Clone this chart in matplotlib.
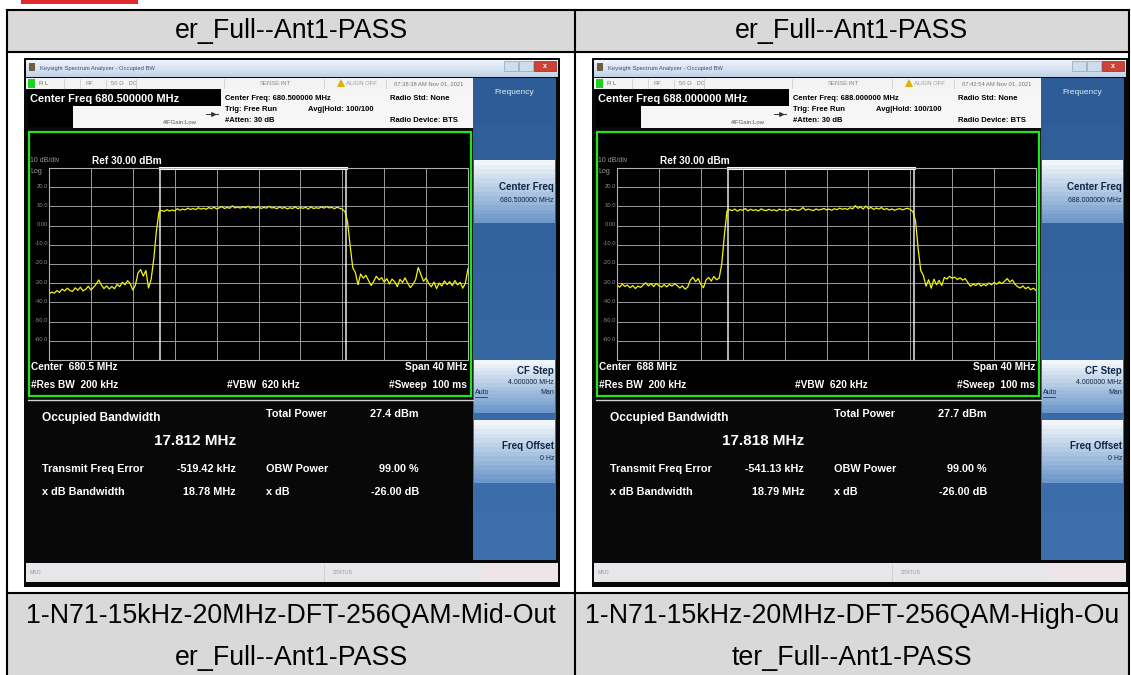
#!/usr/bin/env python3
import numpy as np
import matplotlib
matplotlib.use('Agg')
import matplotlib.pyplot as plt
from matplotlib.patches import Rectangle, Polygon

plt.rcParams['font.family'] = ['Liberation Sans', 'DejaVu Sans']

W, H = 1131, 675

# ---- table texts ----
header_labels = ['er_Full--Ant1-PASS', 'er_Full--Ant1-PASS']
caption_line1 = ['1-N71-15kHz-20MHz-DFT-256QAM-Mid-Out',
                 '1-N71-15kHz-20MHz-DFT-256QAM-High-Ou']
caption_line2 = ['er_Full--Ant1-PASS', 'ter_Full--Ant1-PASS']

# ---- analyzer readings ----
center_mhz = [680.5, 688.0]
span_mhz = 40
obw_mhz = [17.812, 17.818]
freq_err_khz = [-519.42, -541.13]
total_power_dbm = [27.4, 27.7]
xdb_bw_mhz = [18.78, 18.79]
obw_power_pct = [99.00, 99.00]
xdb_db = [-26.00, -26.00]
timestamps = ['07:38:38 AM Nov 01, 2021', '07:42:54 AM Nov 01, 2021']
y_labels = ['20.0', '10.0', '0.00', '-10.0', '-20.0', '-30.0', '-40.0', '-50.0', '-60.0']

# trace samples (dBm), one every 0.25 MHz across the 40 MHz span
trace_mid = [
    -35.8, -34.6, -35.2, -33.9, -34.8, -33.1, -34.0, -32.6, -33.8, -34.3,
    -32.4, -33.7, -32.1, -34.0, -33.2, -31.6, -33.5, -32.2, -30.4, -28.3,
    -30.9, -32.8, -31.4, -33.0, -31.7, -32.9, -30.6, -31.8, -29.5, -30.8,
    -28.7, -30.2, -33.6, -31.0, -24.6, -22.9, -26.3, -23.4, -32.5, -28.0,
    -17.5, -3.0, 7.2, 7.9, 7.4, 8.3, 7.6, 8.1, 7.7, 8.8,
    8.0, 8.6, 8.2, 9.1, 8.4, 8.9, 8.3, 9.3, 8.6, 9.0,
    8.5, 9.4, 8.8, 9.6, 8.7, 9.2, 9.9, 8.9, 9.5, 9.0,
    10.3, 9.2, 9.7, 9.1, 9.8, 9.3, 10.1, 9.0, 9.6, 9.2,
    9.9, 8.9, 9.5, 9.1, 10.0, 9.2, 9.4, 8.8, 9.7, 9.0,
    9.5, 8.7, 9.3, 8.9, 9.8, 8.8, 9.4, 9.0, 9.6, 8.6,
    9.8, 8.9, 9.3, 9.0, 9.7, 9.1, 9.9, 9.2, 9.5, 8.8,
    9.6, 9.0, 8.6, 7.3, 2.0, -10.5, -22.0, -24.5, -30.8, -25.2,
    -27.4, -25.9, -28.6, -31.2, -29.0, -26.4, -28.3, -27.1, -29.5, -27.6,
    -30.4, -27.9, -29.2, -31.8, -28.0, -29.6, -27.2, -30.1, -32.3, -30.5,
    -28.1, -21.8, -25.4, -29.0, -27.3, -30.2, -31.9, -29.4, -32.8, -29.9,
    -31.5, -28.8, -30.7, -29.2, -31.3, -28.6, -30.9, -29.5, -32.6, -30.0,
    -22.4,
]
trace_high = [
    -30.8, -32.1, -30.5, -31.7, -31.0, -32.4, -31.2, -32.8, -31.5, -32.2,
    -30.9, -29.8, -31.4, -30.2, -31.8, -30.1, -31.3, -32.0, -30.7, -31.9,
    -30.6, -31.5, -30.3, -31.2, -32.5, -31.4, -33.1, -32.0, -28.4, -26.9,
    -29.2, -27.6, -30.5, -32.4, -28.3, -27.0, -28.9, -26.5, -28.2, -27.4,
    -20.0, -5.0, 7.6, 8.3, 7.8, 8.6, 7.5, 8.4, 8.0, 8.9,
    7.7, 8.5, 7.9, 8.3, 7.6, 8.7, 8.1, 7.8, 8.5, 7.9,
    8.2, 7.6, 8.6, 8.0, 8.4, 7.7, 8.8, 8.1, 8.5, 7.9,
    8.3, 9.4, 8.0, 8.6, 8.2, 7.8, 8.7, 8.1, 8.4, 8.9,
    8.2, 8.6, 8.0, 8.8, 8.3, 9.1, 8.5, 8.9, 8.4, 9.3,
    8.7, 10.4, 9.0, 9.8, 8.6, 10.2, 8.8, 9.5, 8.4, 9.2,
    8.6, 9.4, 8.3, 8.9, 8.1, 8.7, 8.0, 8.5, 8.9, 8.2,
    8.7, 9.0, 8.4, 7.2, 2.5, -12.0, -23.5, -26.0, -31.5, -28.2,
    -32.6, -27.9, -30.8, -28.5, -31.2, -27.0, -27.8, -26.4, -27.5, -26.8,
    -28.1, -27.2, -28.4, -27.6, -29.8, -31.6, -30.4, -31.2, -30.0, -31.5,
    -30.6, -31.3, -29.9, -30.8, -29.6, -30.5, -29.3, -30.2, -29.0, -27.6,
    -29.4, -28.3, -30.6, -31.8, -32.5, -31.4, -32.9, -32.0, -33.4, -32.6,
    -33.8,
]
traces = [trace_mid, trace_high]

fig = plt.figure(figsize=(W / 100, H / 100), dpi=100)
bg = fig.add_axes([0, 0, 1, 1])
bg.set_xlim(0, W)
bg.set_ylim(H, 0)
bg.axis('off')


def fig_rect(x, y, w, h):
    return [x / W, 1 - (y + h) / H, w / W, h / H]


def box(x0, y0, x1, y1, fc, ec='none', lw=0, z=1):
    bg.add_patch(Rectangle((x0, y0), x1 - x0, y1 - y0, facecolor=fc,
                           edgecolor=ec, linewidth=lw, zorder=z))


def grad_box(x0, y0, x1, y1, c_top, c_bot, n=16, z=2):
    a = np.array(matplotlib.colors.to_rgb(c_top))
    b = np.array(matplotlib.colors.to_rgb(c_bot))
    step = (y1 - y0) / n
    for i in range(n):
        c = a + (b - a) * i / (n - 1)
        box(x0, y0 + i * step, x1, y0 + (i + 1) * step + 0.3, c, z=z)


def txt(x, y, s, size, color='black', weight='normal', ha='left', z=5, **kw):
    bg.text(x, y, s, fontsize=size, color=color, fontweight=weight,
            ha=ha, va='center', zorder=z, **kw)


# ---- document table ----
box(21, 0, 138, 4, '#e02a2f')
box(7, 10, 1129, 52, '#d9d9d9')
box(7, 52, 1129, 593, 'white')
box(7, 593, 1129, 675, '#d9d9d9')
for yy in [10, 52, 593]:
    bg.plot([7, 1129], [yy, yy], color='black', lw=1.5, zorder=20)
for xx in [7, 575, 1129]:
    bg.plot([xx, xx], [10, 675], color='black', lw=1.5, zorder=20)

col_centers = [291, 852]
for i in range(2):
    txt(col_centers[i], 31, header_labels[i], 19.3, ha='center')
    txt(col_centers[i], 616, caption_line1[i], 19.3, ha='center')
    txt(col_centers[i], 658, caption_line2[i], 19.3, ha='center')


def draw_screen(x0, k):
    c = center_mhz[k]
    wht = 'white'
    box(x0, 58, x0 + 536, 587, '#080808')
    # window title bar
    grad_box(x0 + 2, 60, x0 + 534, 77, '#eef3fa', '#c2d3e8', n=8)
    box(x0 + 5, 63, x0 + 11, 71, '#6d6040', z=3)
    txt(x0 + 16, 68.5, 'Keysight Spectrum Analyzer - Occupied BW', 4.2, color='#3a4f78')
    box(x0 + 480, 61, x0 + 494, 71, '#cfdcec', ec='#8ea3bf', lw=0.5, z=3)
    box(x0 + 495, 61, x0 + 509, 71, '#cfdcec', ec='#8ea3bf', lw=0.5, z=3)
    box(x0 + 510, 61, x0 + 532, 71, '#cf4334', ec='#8a2a20', lw=0.5, z=3)
    txt(x0 + 521, 66, 'x', 5, color='white', weight='bold', ha='center')
    # status row
    box(x0 + 2, 78, x0 + 449, 89, '#f3f3f3', z=2)
    for sx in [40, 56, 82, 112, 200, 300, 362]:
        bg.plot([x0 + sx, x0 + sx], [79, 88], color='#c8c8c8', lw=0.5, zorder=3)
    box(x0 + 4, 79, x0 + 11, 88, '#1fd11f', z=3)
    txt(x0 + 15, 83.5, 'R L', 4.2, color='#666')
    txt(x0 + 62, 83.5, 'RF', 4.2, color='#888')
    txt(x0 + 87, 83.5, '50 Ω   DC', 4.2, color='#888')
    txt(x0 + 236, 83.5, 'SENSE:INT', 4.2, color='#888')
    bg.add_patch(Polygon([[x0 + 313, 87], [x0 + 321, 87], [x0 + 317, 79]],
                         closed=True, fc='#e0b000', ec='none', zorder=4))
    txt(x0 + 322, 83.5, 'ALIGN OFF', 4.2, color='#999')
    txt(x0 + 370, 83.5, timestamps[k], 4.2, color='#777')
    # center freq + setup info
    box(x0 + 197, 89, x0 + 449, 128, '#f6f6f6', z=2)
    box(x0 + 49, 106, x0 + 197, 128, '#f6f6f6', z=2)
    box(x0 + 4, 90, x0 + 197, 106, 'black', z=3)
    box(x0 + 4, 106, x0 + 49, 127, 'black', z=3)
    txt(x0 + 6, 98.5, f'Center Freq {c:.6f} MHz', 7.9, color=wht, weight='bold')
    bg.plot([x0 + 182, x0 + 194], [114, 114], color='#333', lw=0.7, zorder=4)
    bg.plot([x0 + 189], [114], marker='>', ms=2.5, color='#333', zorder=4)
    txt(x0 + 139, 122, '#IFGain:Low', 4.3, color='#555')
    fs = 5.5
    txt(x0 + 201, 98, f'Center Freq: {c:.6f} MHz', fs, weight='bold')
    txt(x0 + 201, 109.5, 'Trig: Free Run', fs, weight='bold')
    txt(x0 + 284, 109.5, 'Avg|Hold: 100/100', fs, weight='bold')
    txt(x0 + 201, 121, '#Atten: 30 dB', fs, weight='bold')
    txt(x0 + 366, 98, 'Radio Std: None', fs, weight='bold')
    txt(x0 + 366, 121, 'Radio Device: BTS', fs, weight='bold')
    # measurement window
    box(x0 + 5, 132, x0 + 447, 396, 'black', ec='#1ee61e', lw=1.6, z=3)
    txt(x0 + 6, 161, '10 dB/div', 5.0, color='#9a9a9a')
    txt(x0 + 68, 161, 'Ref 30.00 dBm', 7.3, color=wht, weight='bold')
    txt(x0 + 6, 171.5, 'Log', 5.0, color='#9a9a9a')
    gx0, gy0, gw, gh = x0 + 25, 168, 419, 192
    for j, lab in enumerate(y_labels):
        txt(x0 + 24, gy0 + (j + 1) * gh / 10 - 1, lab, 4.2, color='#8a8a8a', ha='right')
    txt(x0 + 7, 367, f'Center  {c:g} MHz', 7.3, color=wht, weight='bold')
    txt(x0 + 443, 367, f'Span {span_mhz} MHz', 7.3, color=wht, weight='bold', ha='right')
    txt(x0 + 7, 385, '#Res BW  200 kHz', 7.3, color=wht, weight='bold')
    txt(x0 + 239, 385, '#VBW  620 kHz', 7.3, color=wht, weight='bold', ha='center')
    txt(x0 + 443, 385, '#Sweep  100 ms', 7.3, color=wht, weight='bold', ha='right')
    bg.plot([x0 + 4, x0 + 449], [399.5, 399.5], color='#d0d0d0', lw=1, zorder=4)
    # results
    txt(x0 + 18, 418, 'Occupied Bandwidth', 8.6, color=wht, weight='bold')
    txt(x0 + 212, 441, f'{obw_mhz[k]:.3f} MHz', 11, color=wht, weight='bold', ha='right')
    txt(x0 + 242, 414, 'Total Power', 7.8, color=wht, weight='bold')
    txt(x0 + 395, 414, f'{total_power_dbm[k]:.1f} dBm', 7.8, color=wht, weight='bold', ha='right')
    txt(x0 + 18, 469, 'Transmit Freq Error', 7.8, color=wht, weight='bold')
    txt(x0 + 212, 469, f'{freq_err_khz[k]:.2f} kHz', 7.8, color=wht, weight='bold', ha='right')
    txt(x0 + 242, 469, 'OBW Power', 7.8, color=wht, weight='bold')
    txt(x0 + 395, 469, f'{obw_power_pct[k]:.2f} %', 7.8, color=wht, weight='bold', ha='right')
    txt(x0 + 18, 492, 'x dB Bandwidth', 7.8, color=wht, weight='bold')
    txt(x0 + 212, 492, f'{xdb_bw_mhz[k]:.2f} MHz', 7.8, color=wht, weight='bold', ha='right')
    txt(x0 + 242, 492, 'x dB', 7.8, color=wht, weight='bold')
    txt(x0 + 395, 492, f'{xdb_db[k]:.2f} dB', 7.8, color=wht, weight='bold', ha='right')
    # softkey panel
    grad_box(x0 + 449, 78, x0 + 532, 560, '#2d5c96', '#3c6fab', n=10)
    txt(x0 + 490, 93, 'Frequency', 6.0, color='#e6eefa', ha='center')
    keys = [(160, 223), (360, 413), (420, 483)]
    for ky0, ky1 in keys:
        grad_box(x0 + 450, ky0, x0 + 531, ky1, '#f2f6fb', '#6d98c9', n=14, z=3)
    dk = '#0d2546'
    txt(x0 + 530, 187, 'Center Freq', 7.0, color=dk, weight='bold', ha='right')
    txt(x0 + 530, 200, f'{c:.6f} MHz', 5.0, color=dk, ha='right')
    txt(x0 + 530, 371, 'CF Step', 7.0, color=dk, weight='bold', ha='right')
    txt(x0 + 530, 382, '4.000000 MHz', 5.0, color=dk, ha='right')
    txt(x0 + 451, 393, 'Auto', 5.0, color=dk)
    bg.plot([x0 + 451, x0 + 463], [396.5, 396.5], color=dk, lw=0.5, zorder=5)
    txt(x0 + 530, 393, 'Man', 5.0, color=dk, ha='right')
    txt(x0 + 530, 446, 'Freq Offset', 7.0, color=dk, weight='bold', ha='right')
    txt(x0 + 530, 458, '0 Hz', 5.0, color=dk, ha='right')
    # status bar
    box(x0 + 2, 563, x0 + 534, 582, '#e7e7eb', z=2)
    box(x0 + 460, 563, x0 + 534, 582, '#efe4e6', z=2)
    bg.plot([x0 + 300, x0 + 300], [564, 581], color='#c8c8c8', lw=0.5, zorder=3)
    txt(x0 + 6, 572.5, 'MSG', 3.8, color='#999')
    txt(x0 + 309, 572.5, 'STATUS', 3.8, color='#999')

    # spectrum trace in the graticule
    ax = fig.add_axes(fig_rect(gx0, gy0, gw, gh))
    ax.set_facecolor('black')
    trace = traces[k]
    freq = c + np.linspace(-span_mhz / 2, span_mhz / 2, len(trace))
    ax.set_xlim(c - span_mhz / 2, c + span_mhz / 2)
    ax.set_ylim(-70, 30)
    ax.set_xticks(c + np.arange(-20, 21, 4))
    ax.set_yticks(np.arange(-70, 31, 10))
    ax.grid(True, color='#9a9a9a', lw=0.7)
    ax.tick_params(length=0, labelbottom=False, labelleft=False)
    for sp in ax.spines.values():
        sp.set_color('#b0b0b0')
        sp.set_linewidth(0.8)
    lo = c + freq_err_khz[k] / 1000 - obw_mhz[k] / 2
    hi = c + freq_err_khz[k] / 1000 + obw_mhz[k] / 2
    ax.axvline(lo, color='#e8e8e8', lw=1.1)
    ax.axvline(hi, color='#e8e8e8', lw=1.1)
    ax.plot([lo, hi], [30, 30], color='white', lw=2.2, clip_on=False)
    ax.plot(freq, trace, color='#f4f40c', lw=0.9)


draw_screen(24, 0)
draw_screen(592, 1)

fig.savefig('out.png', dpi=100)
